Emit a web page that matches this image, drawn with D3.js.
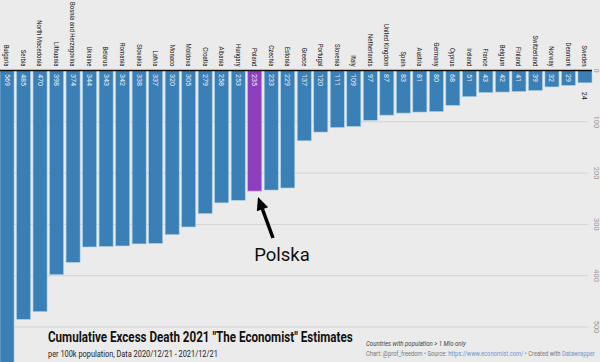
<!DOCTYPE html>
<html>
<head>
<meta charset="utf-8">
<script src="https://cdn.jsdelivr.net/npm/d3@7"></script>
<style>
  body { margin: 0; background: #ebebeb; }
  svg { display: block; font-family: Roboto, "Noto Sans", sans-serif; }
</style>
</head>
<body>
<svg width="600" height="362"></svg>
<script>
// Data
const countries = ["Bulgaria", "Serbia", "North Macedonia", "Lithuania", "Bosnia and Herzegovina",
  "Ukraine", "Belarus", "Romania", "Slovakia", "Latvia", "Monaco", "Moldova", "Croatia",
  "Albania", "Hungary", "Poland", "Czechia", "Estonia", "Greece", "Portugal", "Slovenia",
  "Italy", "Netherlands", "United Kingdom", "Spain", "Austria", "Germany", "Cyprus",
  "Ireland", "France", "Belgium", "Finland", "Switzerland", "Norway", "Denmark", "Sweden"];
const deaths = [569, 485, 470, 398, 374, 344, 343, 342, 338, 337, 320, 305, 279,
  258, 253, 235, 233, 229, 137, 120, 111, 109, 97, 87, 83, 81, 80, 68,
  51, 43, 42, 41, 39, 32, 29, 24];
const ticks = [0, 100, 200, 300, 400, 500];
const highlight = "Poland";

const svg = d3.select("svg"),
    width = +svg.attr("width"),
    height = +svg.attr("height");

const data = countries.map((c, i) => ({ country: c, value: deaths[i] }));

const x = d3.scaleBand()
    .domain(countries)
    .range([0, 592])
    .paddingInner(0.15)
    .paddingOuter(0);

const y = d3.scaleLinear()
    .domain([0, 500])
    .range([70.5, 327]);

// gridlines
svg.append("g")
    .selectAll("line")
    .data(ticks.slice(1))
    .join("line")
      .attr("x1", 0)
      .attr("x2", 588)
      .attr("y1", d => y(d))
      .attr("y2", d => y(d))
      .attr("stroke", "#d3d3d3")
      .attr("stroke-width", 1);

// tick labels, rotated
svg.append("g")
    .selectAll("text")
    .data(ticks)
    .join("text")
      .attr("transform", d => `translate(594,${y(d)}) rotate(90)`)
      .attr("text-anchor", "middle")
      .attr("font-size", 7.5)
      .attr("fill", "#999")
      .text(d => d);

// bars
svg.append("g")
    .selectAll("rect")
    .data(data)
    .join("rect")
      .attr("x", d => x(d.country))
      .attr("y", y(0))
      .attr("width", x.bandwidth())
      .attr("height", d => y(d.value) - y(0))
      .attr("fill", d => d.country === highlight ? "#8e3fbd" : "#3a7fb5")
      .attr("stroke", d => d.country === highlight ? "#c9a6e0" : "#a9cfe8")
      .attr("stroke-width", 0.6);

// baseline
svg.append("line")
    .attr("x1", 0).attr("x2", 592)
    .attr("y1", y(0)).attr("y2", y(0))
    .attr("stroke", "#111")
    .attr("stroke-width", 1.5);

// country labels, reading top to bottom, ending at baseline (narrow face)
svg.append("g")
    .selectAll("text")
    .data(data)
    .join("text")
      .attr("transform", d => `translate(${x(d.country) + x.bandwidth() / 2 - 2.6},${y(0) - 4}) rotate(90) scale(0.76,1)`)
      .attr("text-anchor", "end")
      .attr("font-size", 7.9)
      .attr("fill", "#222")
      .text(d => d.country);

// value labels inside bars (outside if bar too short)
const fits = d => y(d.value) - y(0) > 14;
svg.append("g")
    .selectAll("text")
    .data(data)
    .join("text")
      .attr("transform", d => {
        const yy = fits(d) ? y(0) + 3.5 : y(d.value) + 9;
        return `translate(${x(d.country) + x.bandwidth() / 2 - 2.5},${yy}) rotate(90)`;
      })
      .attr("text-anchor", "start")
      .attr("font-size", 7.2)
      .attr("fill", d => fits(d) ? "#e6eef5" : "#222")
      .text(d => d.value);

// annotation arrow
const tip = [258, 197], tail = [273, 238];
const ang = Math.atan2(tail[1] - tip[1], tail[0] - tip[0]);
svg.append("line")
    .attr("x1", tail[0]).attr("y1", tail[1])
    .attr("x2", tip[0] + 8 * Math.cos(ang)).attr("y2", tip[1] + 8 * Math.sin(ang))
    .attr("stroke", "#000")
    .attr("stroke-width", 3.5);
const hl = 13, hw = 6;
const bx = tip[0] + hl * Math.cos(ang), by = tip[1] + hl * Math.sin(ang);
svg.append("path")
    .attr("d", `M${tip[0]},${tip[1]} L${bx + hw * Math.sin(ang)},${by - hw * Math.cos(ang)} L${bx - hw * Math.sin(ang)},${by + hw * Math.cos(ang)} Z`)
    .attr("fill", "#000");

svg.append("text")
    .attr("x", 282).attr("y", 261)
    .attr("text-anchor", "middle")
    .attr("font-size", 18.5)
    .attr("fill", "#111")
    .text("Polska");

// squeeze a text horizontally so it spans the given width
function fitText(sel, px, py, w) {
  const natural = sel.node().getComputedTextLength();
  sel.attr("transform", `translate(${px},${py}) scale(${w / natural},1)`);
}

// title block
fitText(svg.append("text")
    .attr("font-size", 14)
    .attr("font-weight", "bold")
    .attr("fill", "#111")
    .text('Cumulative Excess Death 2021 "The Economist" Estimates'), 48, 342, 305);

fitText(svg.append("text")
    .attr("font-size", 8.5)
    .attr("fill", "#222")
    .text("per 100k population, Data 2020/12/21 - 2021/12/21"), 48, 357, 170);

fitText(svg.append("text")
    .attr("font-size", 7)
    .attr("font-style", "italic")
    .attr("fill", "#444")
    .text("Countries with population > 1 Mio only"), 366, 346, 100);

const src = svg.append("text")
    .attr("font-size", 6.6)
    .attr("fill", "#777");
src.append("tspan").text("Chart: @prof_freedom • Source: ");
src.append("tspan").attr("fill", "#6f95c8").text("https://www.economist.com/");
src.append("tspan").text(" • Created with ");
src.append("tspan").attr("fill", "#6f95c8").text("Datawrapper");
fitText(src, 366, 356, 229);
</script>
</body>
</html>
